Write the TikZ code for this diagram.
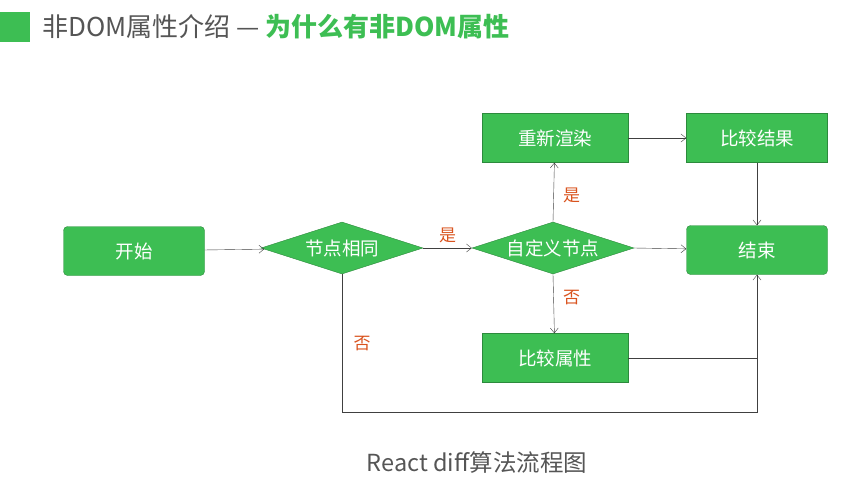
\documentclass[tikz,border=0pt]{standalone}
\usepackage{fontspec}
\setmainfont{Noto Sans CJK SC}
\usetikzlibrary{shapes.geometric,arrows.meta}
\definecolor{boxgreen}{HTML}{3DBE53}
\definecolor{edgegreen}{HTML}{2C8A3C}
\definecolor{labred}{HTML}{D9531E}
\definecolor{txtgray}{HTML}{555555}
\begin{document}
\begin{tikzpicture}[x=1pt,y=-1pt,
   box/.style={draw=edgegreen, fill=boxgreen, text=white, minimum width=146pt, minimum height=49pt, font=\fontsize{18.5}{18.5}\selectfont, inner sep=0pt},
   term/.style={box, rounded corners=4pt, minimum width=141pt},
   cond/.style={draw=edgegreen, fill=boxgreen, text=white, diamond, aspect=3.1, minimum width=162pt, minimum height=52pt, inner sep=0pt, font=\fontsize{18.5}{18.5}\selectfont},
   yn/.style={text=labred, font=\fontsize{17}{17}\selectfont},
   flow/.style={draw=black!75, -{Straight Barb[length=5pt,width=8pt]}}]
\useasboundingbox (0,0) rectangle (844,499);
% title
\fill[boxgreen] (0,12) rectangle (30,42);
\node[anchor=west, inner sep=0pt, text=txtgray, font=\fontsize{26}{26}\selectfont] (title) at (42,27)
   {非DOM属性介绍 — \textcolor{boxgreen}{\bfseries 为什么有非DOM属性}};

\node[term] (start) at (134,251) {开始};
\node[cond] (same) at (342,248) {节点相同};
\node[cond] (custom) at (553,248) {自定义节点};
\node[box] (render) at (555,138) {重新渲染};
\node[box, minimum width=141pt] (result) at (757,138) {比较结果};
\node[term] (end) at (757,250) {结束};
\node[box] (attrs) at (555,358) {比较属性};
\coordinate (low) at (342,412);
\coordinate (corner) at (757,412);

\draw[flow] (start) -- (same);
\draw[flow] (same) -- node[yn, above=2pt] {是} (custom);
\draw[flow] (custom.north) -- node[yn, right=6pt, pos=0.45] {是} (render);
\draw[flow] (custom.south) -- node[yn, right=6pt, pos=0.4] {否} (attrs);
\draw[flow] (custom.east) -- (end);
\draw[flow] (render) -- (result);
\draw[flow] (result) -- (end);
\draw[flow] (attrs.east) -| (end.south);
\draw[draw=black!75] (same.south) -- node[yn, right=8pt, pos=0.5] {否} (low) -- (corner) -- (end.south |- attrs.east);

\node[text=txtgray, font=\fontsize{23.5}{23.5}\selectfont] (caption) at (477,463) {React diff算法流程图};
\end{tikzpicture}
\end{document}
